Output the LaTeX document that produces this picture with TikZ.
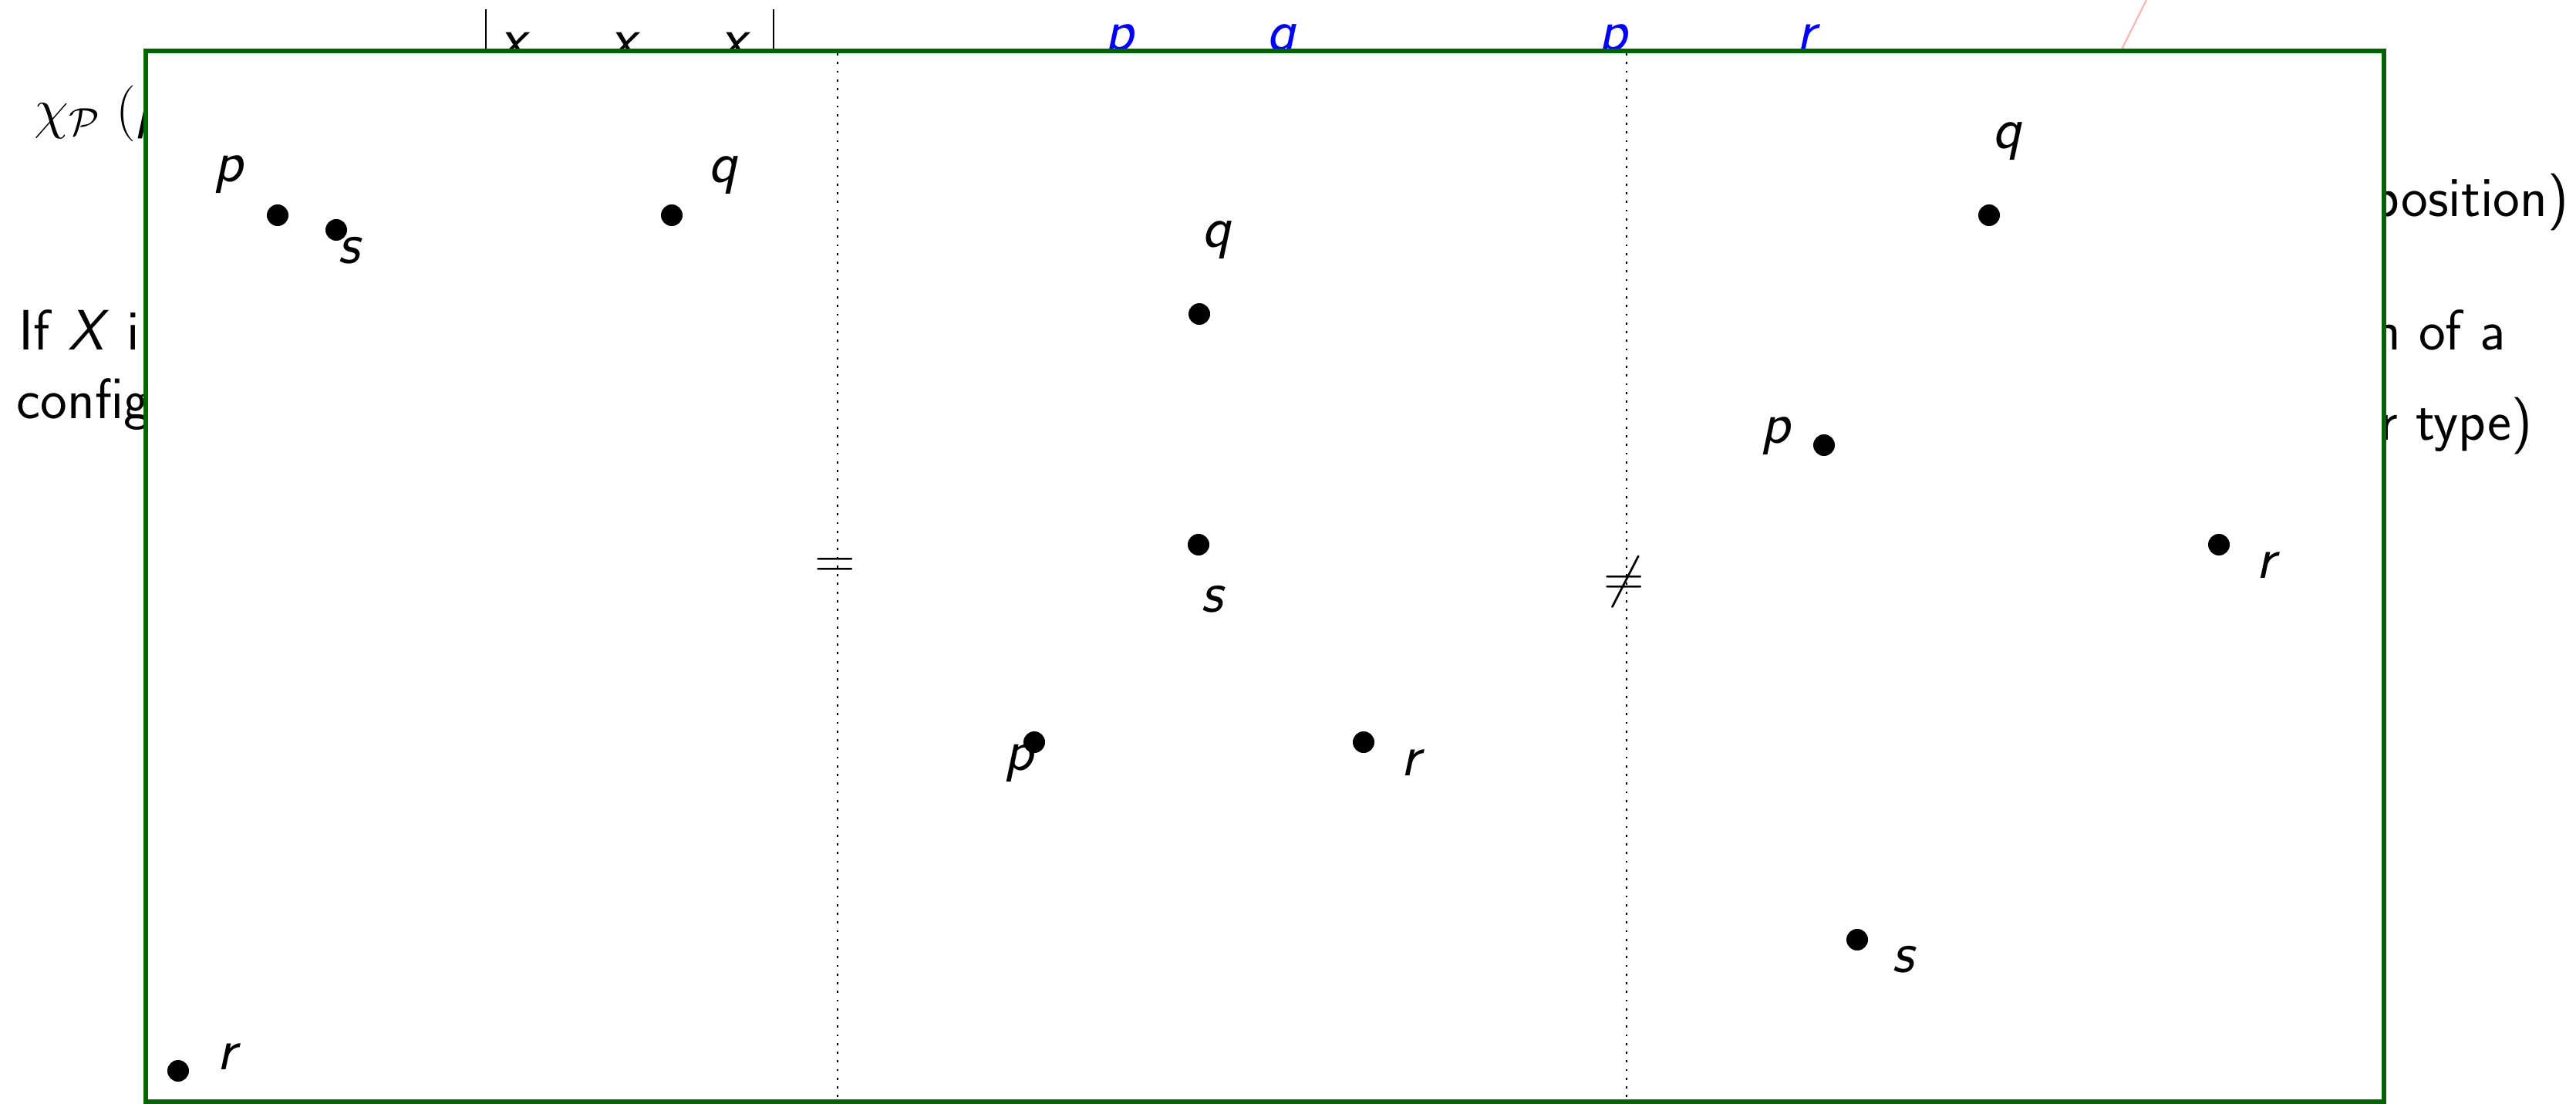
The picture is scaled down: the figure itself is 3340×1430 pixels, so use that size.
\documentclass[tikz,border=0pt]{standalone}
\usepackage{tikz}
\definecolor{boxgreen}{RGB}{0,100,0}
\definecolor{pinkline}{RGB}{255,180,180}
\newcommand\txtfont{\fontsize{21}{25}\selectfont\sffamily}
\newcommand\labfont{\fontsize{22}{26}\selectfont\sffamily\slshape}
\begin{document}
\begin{tikzpicture}[x=0.01cm,y=-0.01cm,
  txt/.style={font=\txtfont, inner sep=0pt},
  lab/.style={font=\labfont, inner sep=0pt, anchor=base},
  bluelab/.style={font=\labfont, inner sep=0pt, anchor=base, text=blue},
  dot/.style={circle, fill=black, inner sep=0pt, minimum size=0.28cm},
  divider/.style={line width=0.65pt, dash pattern=on 0.8pt off 2.4pt},
  framebox/.style={draw=boxgreen, line width=1.7pt, fill=white},
  relsign/.style={font=\fontsize{21}{25}\selectfont, inner sep=0pt, anchor=base}]
\useasboundingbox (0,0) rectangle (3340,1430);

% ---- background slide text (partly hidden by the box) ----
\node[txt, anchor=base west] (chi) at (44,165) {$\chi_{\mathcal{P}}\mkern5mu($\textsl{p}};
\node[txt, anchor=base west] (ifx) at (24,453) {If \textsl{X} i};
\node[txt, anchor=base west] (config) at (21,542) {config};
\node[txt, anchor=base east] (posn) at (3331,280) {position)};
\node[txt, anchor=base east] (nofa) at (3249,453) {n of a};
\node[txt, anchor=base east] (rtype) at (3284,570) {r type)};

% determinant bars and entries
\coordinate (bl1) at (630,12);
\coordinate (bl2) at (630,70);
\coordinate (br1) at (1003,12);
\coordinate (br2) at (1003,70);
\draw[line width=0.8pt] (bl1) -- (bl2);
\draw[line width=0.8pt] (br1) -- (br2);
\node[lab] (x1) at (665,75) {x};
\node[lab] (x2) at (808,75) {x};
\node[lab] (x3) at (951,75) {x};

% blue letters
\node[bluelab] (bp1) at (1451,65) {p};
\node[bluelab] (bq1) at (1661,65) {q};
\node[bluelab] (bp2) at (2091,65) {p};
\node[bluelab] (br) at (2342,65) {r};

% pink line
\coordinate (pk1) at (2785,-4);
\coordinate (pk2) at (2750,66);
\draw[pinkline, line width=0.6pt] (pk1) -- (pk2);

% ---- the framed box ----
\coordinate (bx1) at (189,66);
\coordinate (bx2) at (3091,1428);
\draw[framebox] (bx1) rectangle (bx2);

% dividers
\coordinate (d1t) at (1086,69);
\coordinate (d1b) at (1086,1425);
\coordinate (d2t) at (2109,69);
\coordinate (d2b) at (2109,1425);
\draw[divider] (d1t) -- (d1b);
\draw[divider] (d2t) -- (d2b);

\node[relsign] (eq) at (1083,749) {$=$};
\node[relsign] (neq) at (2106,772) {$\neq$};

% ---- panel 1 ----
\node[dot] (ap) at (360,279) {};
\node[dot] (as) at (436,298) {};
\node[dot] (aq) at (871,279) {};
\node[dot] (ar) at (231,1388) {};
\node[lab] (apl) at (296,235) {p};
\node[lab] (aql) at (937,236) {q};
\node[lab] (asl) at (452,341) {s};
\node[lab] (arl) at (294,1386) {r};

% ---- panel 2 ----
\node[dot] (bq) at (1555,407) {};
\node[dot] (bs) at (1554,706) {};
\node[dot] (bp) at (1341,962) {};
\node[dot] (brr) at (1768,962) {};
\node[lab] (bql) at (1577,320) {q};
\node[lab] (bsl) at (1571,793) {s};
\node[lab] (bpl) at (1321,998) {p};
\node[lab] (brl) at (1829,1005) {r};

% ---- panel 3 ----
\node[dot] (cq) at (2579,279) {};
\node[dot] (cp) at (2365,577) {};
\node[dot] (cr) at (2877,706) {};
\node[dot] (cs) at (2408,1218) {};
\node[lab] (cql) at (2602,192) {q};
\node[lab] (cpl) at (2302,574) {p};
\node[lab] (crl) at (2938,749) {r};
\node[lab] (csl) at (2467,1260) {s};
\end{tikzpicture}
\end{document}
